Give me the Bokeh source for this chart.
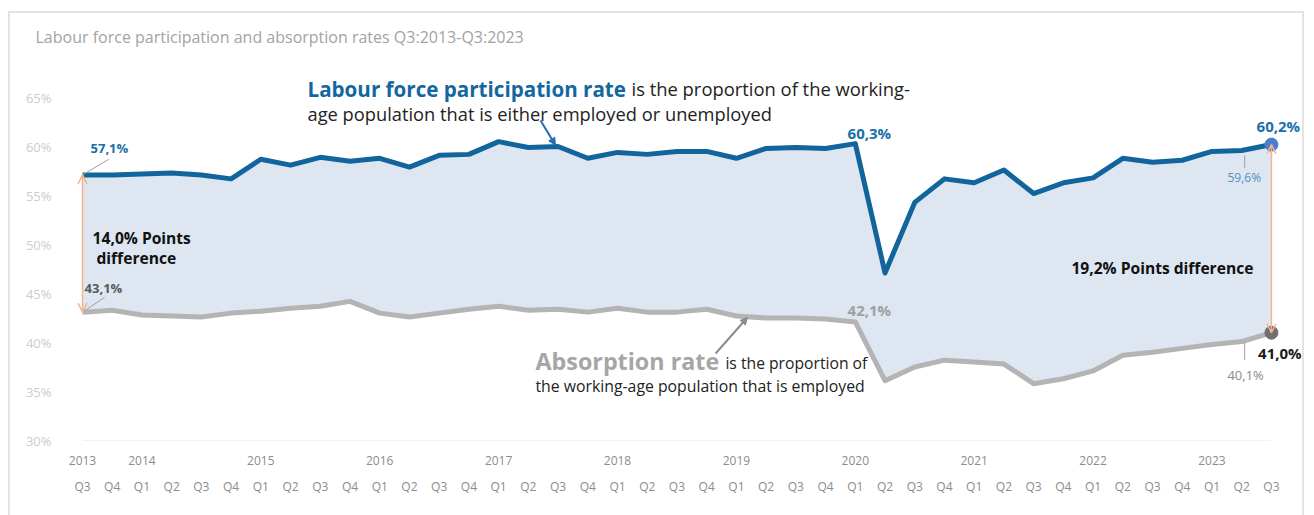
from bokeh.plotting import figure
from bokeh.models import Range1d, LinearAxis, FixedTicker, Arrow, OpenHead, NormalHead
from bokeh.core.properties import value
from bokeh.embed import file_html
from bokeh.resources import INLINE

# ---------------- data ----------------
quarters = ["Q3", "Q4",
            "Q1", "Q2", "Q3", "Q4",
            "Q1", "Q2", "Q3", "Q4",
            "Q1", "Q2", "Q3", "Q4",
            "Q1", "Q2", "Q3", "Q4",
            "Q1", "Q2", "Q3", "Q4",
            "Q1", "Q2", "Q3", "Q4",
            "Q1", "Q2", "Q3", "Q4",
            "Q1", "Q2", "Q3", "Q4",
            "Q1", "Q2", "Q3", "Q4",
            "Q1", "Q2", "Q3"]
years = ["2013", "2014", "2015", "2016", "2017", "2018", "2019", "2020", "2021", "2022", "2023"]
year_index = [0, 2, 6, 10, 14, 18, 22, 26, 30, 34, 38]

participation = [57.1, 57.1, 57.2, 57.3, 57.1, 56.7,
                 58.7, 58.1, 58.9, 58.5,
                 58.8, 57.9, 59.1, 59.2,
                 60.5, 59.9, 60.0, 58.8,
                 59.4, 59.2, 59.5, 59.5,
                 58.8, 59.8, 59.9, 59.8,
                 60.3, 47.1, 54.3, 56.7,
                 56.3, 57.6, 55.2, 56.3,
                 56.8, 58.8, 58.4, 58.6,
                 59.5, 59.6, 60.2]
absorption = [43.1, 43.3, 42.8, 42.7, 42.6, 43.0,
              43.2, 43.5, 43.7, 44.2,
              43.0, 42.6, 43.0, 43.4,
              43.7, 43.3, 43.4, 43.1,
              43.5, 43.1, 43.1, 43.4,
              42.7, 42.5, 42.5, 42.4,
              42.1, 36.1, 37.5, 38.2,
              38.0, 37.8, 35.8, 36.3,
              37.1, 38.7, 39.0, 39.4,
              39.8, 40.1, 41.0]
y_ticks = [30, 35, 40, 45, 50, 55, 60, 65]
title_text = "Labour force participation and absorption rates Q3:2013-Q3:2023"

idx = list(range(len(quarters)))
last = idx[-1]

FONT = "Open Sans"
BLUE = "#12659c"
GRAY = "#b4b4b4"
FILL = "#dde6f1"
ORANGE = "#f5b48a"

p = figure(width=1296, height=510, output_backend="svg", toolbar_location=None,
           x_range=Range1d(-0.4037, 41.18), y_range=Range1d(29.49, 68.78),
           x_axis_type=None, y_axis_type=None,
           min_border_left=60, min_border_right=0, min_border_top=47, min_border_bottom=78,
           background_fill_color="white", border_fill_color="white",
           styles={"margin": "11px 0 0 8px", "border": "2px solid #e3e3e3"})
p.outline_line_color = None
p.grid.visible = False

p.title.text = title_text
p.title.text_font = FONT
p.title.text_font_size = "16px"
p.title.text_font_style = "normal"
p.title.text_color = "#a3a3a3"
p.title.align = "left"
p.title.offset = -35
p.title.standoff = 22
p.title.vertical_align = "top"

# axes
yax = LinearAxis(ticker=FixedTicker(ticks=y_ticks),
                 major_label_overrides={t: f"{t}%" for t in y_ticks})
yax.axis_line_color = None
yax.major_tick_line_color = None
yax.minor_tick_line_color = None
yax.major_label_standoff = 13
yax.major_label_text_font = FONT
yax.major_label_text_font_size = "13px"
yax.major_label_text_color = "#cccccc"
p.add_layout(yax, "left")

xyear = LinearAxis(ticker=FixedTicker(ticks=year_index),
                   major_label_overrides={i: y for i, y in zip(year_index, years)})
xq = LinearAxis(ticker=FixedTicker(ticks=idx),
                major_label_overrides={i: q for i, q in zip(idx, quarters)})
for ax, so in ((xyear, 4), (xq, 4)):
    ax.axis_line_color = None
    ax.major_tick_line_color = None
    ax.minor_tick_line_color = None
    ax.major_label_standoff = so
    ax.major_label_text_font = FONT
    ax.major_label_text_font_size = "12px"
    ax.major_label_text_color = "#8c8c8c"
p.add_layout(xyear, "below")
p.add_layout(xq, "below")

# faint baseline
p.segment(x0=[0], y0=[30], x1=[last], y1=[30], line_color="#f3f3f3", line_width=1)

# area between the two series
p.varea(x=idx, y1=absorption, y2=participation, fill_color=FILL)

# lines
p.line(idx, absorption, line_color=GRAY, line_width=5, line_join="round")
p.line(idx, participation, line_color=BLUE, line_width=5, line_join="round")

# end markers
p.scatter([idx[-1]], [participation[-1]], size=13, fill_color="#4a7fd0", line_color="#4a7fd0")
p.scatter([idx[-1]], [absorption[-1]], size=13, fill_color="#707070", line_color="#707070")

# orange difference arrows
for xi, top, bot in ((0, participation[0], absorption[0]), (last, participation[-1], absorption[-1])):
    p.add_layout(Arrow(x_start=xi, y_start=top, x_end=xi, y_end=bot,
                       line_color=ORANGE, line_width=1.5,
                       start=OpenHead(size=9, line_color=ORANGE, line_width=1.5),
                       end=OpenHead(size=9, line_color=ORANGE, line_width=1.5)))

# leader lines
p.segment(x0=[0, 0, 39.1, 39.1], y0=[participation[0], absorption[0], 59.1, 40.0],
          x1=[0.88, 0.74, 39.1, 39.1], y1=[58.7, 44.6, 57.8, 38.2],
          line_color="#a0a0a0", line_width=1)

def txt(x, y, s, size, color, bold=False, align="left"):
    p.text(x=[x], y=[y], text=[s], text_font=value(FONT), text_font_size=size,
           text_color=color, text_font_style="bold" if bold else "normal",
           text_align=align, text_baseline="middle")

# value labels
txt(0.27, 59.9, "57,1%", "13px", "#1b6fa8", True)
txt(0.07, 45.6, "43,1%", "13px", "#5a5a5a", True)
txt(25.74, 61.43, "60,3%", "15px", "#1b6fa8", True)
txt(25.74, 43.27, "42,1%", "15px", "#a0a0a0", True)
txt(39.5, 62.14, "60,2%", "15px", "#1b6fa8", True)
txt(38.52, 56.84, "59,6%", "12px", "#4d92c4")
txt(39.55, 38.88, "41,0%", "15px", "#1a1a1a", True)
txt(38.52, 36.73, "40,1%", "13px", "#888888")

# difference labels
txt(0.34, 50.7, "14,0% Points", "15.6px", "#111111", True)
txt(0.47, 48.67, "difference", "15.6px", "#111111", True)
txt(33.27, 47.65, "19,2% Points difference", "15.6px", "#111111", True)

# explanatory texts
txt(7.57, 65.92, "Labour force participation rate", "20.6px", "#13679f", True)
txt(18.47, 65.92, "is the proportion of the working-", "18.4px", "#222222")
txt(7.57, 63.37, "age population that is either employed or unemployed", "18.3px", "#222222")
txt(15.24, 38.16, "Absorption rate", "23.3px", "#a6a6a6", True)
txt(21.63, 37.9, "is the proportion of", "15.7px", "#222222")
txt(15.24, 35.61, "the working-age population that is employed", "15.8px", "#222222")

# pointer arrows
p.add_layout(Arrow(x_start=15.41, y_start=62.65, x_end=15.91, y_end=60.15,
                   line_color="#1f6fb8", line_width=2,
                   end=NormalHead(size=7, fill_color="#1f6fb8", line_color="#1f6fb8")))
p.add_layout(Arrow(x_start=21.3, y_start=38.88, x_end=22.37, y_end=42.55,
                   line_color="#8c8c8c", line_width=2,
                   end=NormalHead(size=7, fill_color="#8c8c8c", line_color="#8c8c8c")))

open("out.html", "w").write(file_html(p, INLINE))
